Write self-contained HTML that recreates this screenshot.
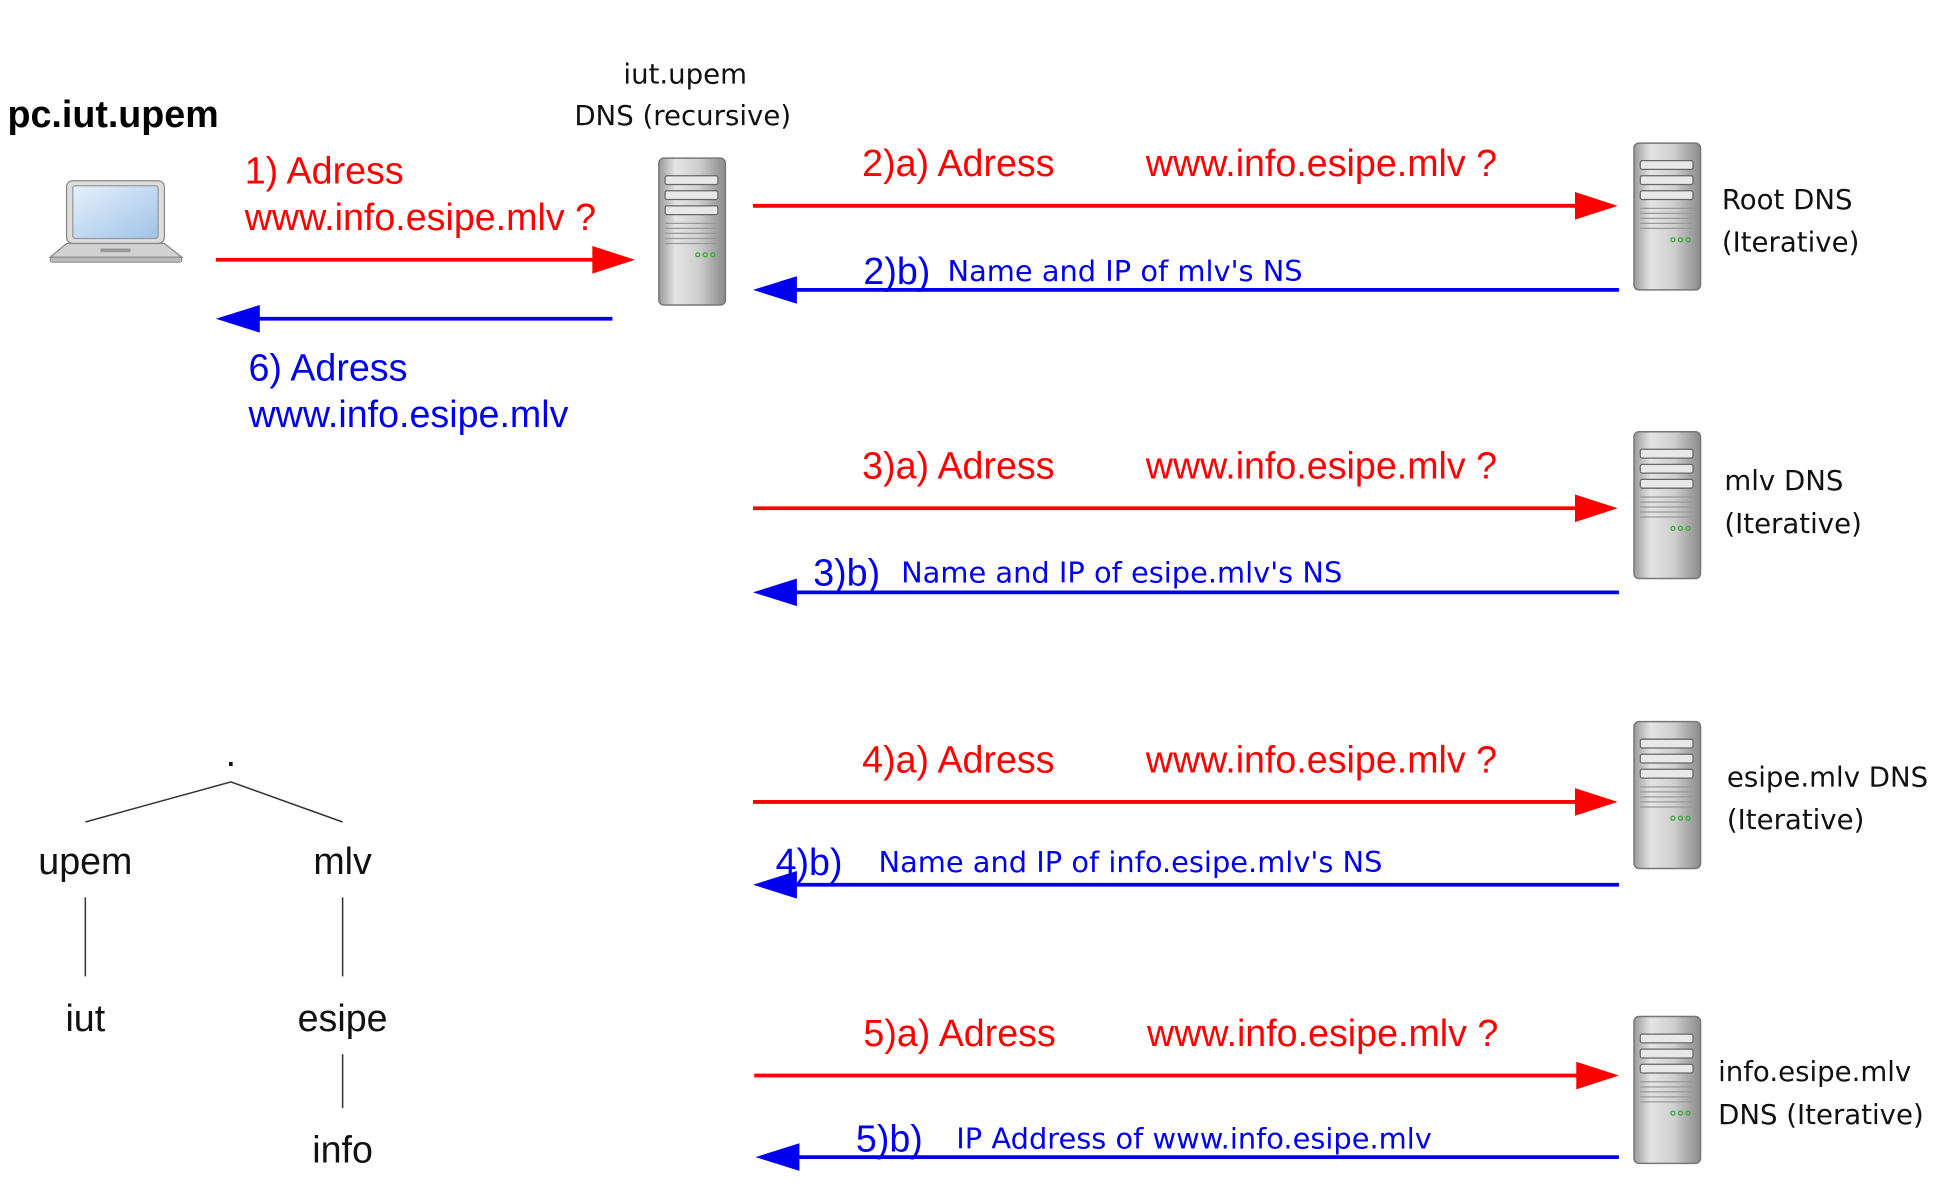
<!DOCTYPE html>
<html><head><meta charset="utf-8"><style>
html,body{margin:0;padding:0;background:#fff;}
svg{display:block}
text{font-family:"Liberation Sans",sans-serif;dominant-baseline:central}
.s{font-family:"DejaVu Sans","Liberation Sans",sans-serif;font-size:22px;fill:#111}
.r{fill:#ff0000;font-size:30px}
.b{fill:#0000ee;font-size:30px}
.bs{fill:#0000ee;font-size:23px;font-family:"DejaVu Sans","Liberation Sans",sans-serif}
.t{font-size:30px;fill:#111}
</style></head><body>
<svg width="1949" height="1196" viewBox="0 0 1553 953" preserveAspectRatio="none" xmlns="http://www.w3.org/2000/svg">
<defs>
<linearGradient id="sg" x1="0" y1="0" x2="1" y2="0">
<stop offset="0" stop-color="#9a9a9a"/><stop offset="0.25" stop-color="#e4e4e4"/><stop offset="0.6" stop-color="#cfcfcf"/><stop offset="1" stop-color="#8a8a8a"/></linearGradient>
<linearGradient id="scr" x1="0" y1="0" x2="1" y2="1"><stop offset="0" stop-color="#e6f0fb"/><stop offset="1" stop-color="#9fc3e8"/></linearGradient>
<g id="srv">
<rect x="0" y="0" width="53" height="117" rx="4" fill="url(#sg)" stroke="#777" stroke-width="1.2"/>
<rect x="5" y="14" width="42" height="7" rx="1.5" fill="#e8e8e8" stroke="#666"/>
<rect x="5" y="26" width="42" height="7" rx="1.5" fill="#e8e8e8" stroke="#666"/>
<rect x="5" y="38" width="42" height="7" rx="1.5" fill="#e8e8e8" stroke="#666"/>
<path d="M5 52H47M5 56H47M5 60H47M5 64H47M5 68H47" stroke="#999" stroke-width="1"/>
<circle cx="31" cy="77" r="1.6" fill="none" stroke="#3a3"/><circle cx="37" cy="77" r="1.6" fill="none" stroke="#3a3"/><circle cx="43" cy="77" r="1.6" fill="none" stroke="#3a3"/>
</g>
</defs>
<!-- laptop -->
<rect x="53" y="144" width="78" height="50" rx="5" fill="#ddd" stroke="#888"/>
<rect x="58" y="148" width="68" height="42" rx="2" fill="url(#scr)" stroke="#999"/>
<path d="M53 194 L131 194 L145 205 L40 205 Z" fill="#d2d2d2" stroke="#888"/>
<rect x="40" y="205" width="105" height="4" rx="2" fill="#bbb" stroke="#888" stroke-width="0.8"/>
<rect x="80" y="198" width="24" height="3" fill="#999"/>
<text x="6" y="91" style="font-size:30px;font-weight:bold;fill:#000">pc.iut.upem</text>
<text class="s" x="546" y="59" text-anchor="middle">iut.upem</text>
<text class="s" x="544" y="92" text-anchor="middle">DNS (recursive)</text>
<use href="#srv" x="525" y="126"/>
<use href="#srv" x="1302" y="114"/>
<use href="#srv" x="1302" y="344"/>
<use href="#srv" x="1302" y="575"/>
<use href="#srv" x="1302" y="810"/>
<!-- client arrows -->
<text class="r" x="195" y="136">1) Adress</text>
<text class="r" x="195" y="173">www.info.esipe.mlv ?</text>
<line x1="172" y1="207" x2="475" y2="207" stroke="#f00" stroke-width="3"/>
<polygon points="472,196 506,207 472,218" fill="#f00"/>
<line x1="488" y1="254" x2="200" y2="254" stroke="#00e" stroke-width="3"/>
<polygon points="207,243 172,254 207,265" fill="#00e"/>
<text class="b" x="198" y="293">6) Adress</text>
<text class="b" x="198" y="330">www.info.esipe.mlv</text>
<!-- row 2 -->
<text class="r" x="687" y="130">2)a) Adress</text><text class="r" x="913" y="130">www.info.esipe.mlv ?</text>
<line x1="600" y1="164" x2="1258" y2="164" stroke="#f00" stroke-width="3"/><polygon points="1255,153 1289,164 1255,175" fill="#f00"/>
<text class="b" x="688" y="216">2)b)</text><text class="bs" x="755" y="216">Name and IP of mlv's NS</text>
<line x1="1290" y1="231" x2="630" y2="231" stroke="#00e" stroke-width="3"/><polygon points="635,220 600,231 635,242" fill="#00e"/>
<text class="s" x="1372" y="159">Root DNS</text><text class="s" x="1372" y="193">(Iterative)</text>
<!-- row 3 -->
<text class="r" x="687" y="371">3)a) Adress</text><text class="r" x="913" y="371">www.info.esipe.mlv ?</text>
<line x1="600" y1="405" x2="1258" y2="405" stroke="#f00" stroke-width="3"/><polygon points="1255,394 1289,405 1255,416" fill="#f00"/>
<text class="b" x="648" y="456">3)b)</text><text class="bs" x="718" y="456">Name and IP of esipe.mlv's NS</text>
<line x1="1290" y1="472" x2="630" y2="472" stroke="#00e" stroke-width="3"/><polygon points="635,461 600,472 635,483" fill="#00e"/>
<text class="s" x="1374" y="383">mlv DNS</text><text class="s" x="1374" y="417">(Iterative)</text>
<!-- row 4 -->
<text class="r" x="687" y="605">4)a) Adress</text><text class="r" x="913" y="605">www.info.esipe.mlv ?</text>
<line x1="600" y1="639" x2="1258" y2="639" stroke="#f00" stroke-width="3"/><polygon points="1255,628 1289,639 1255,650" fill="#f00"/>
<text class="b" x="618" y="687">4)b)</text><text class="bs" x="700" y="687">Name and IP of info.esipe.mlv's NS</text>
<line x1="1290" y1="705" x2="630" y2="705" stroke="#00e" stroke-width="3"/><polygon points="635,694 600,705 635,716" fill="#00e"/>
<text class="s" x="1376" y="619">esipe.mlv DNS</text><text class="s" x="1376" y="653">(Iterative)</text>
<!-- row 5 -->
<text class="r" x="688" y="823">5)a) Adress</text><text class="r" x="914" y="823">www.info.esipe.mlv ?</text>
<line x1="601" y1="857" x2="1259" y2="857" stroke="#f00" stroke-width="3"/><polygon points="1256,846 1290,857 1256,868" fill="#f00"/>
<text class="b" x="682" y="907">5)b)</text><text class="bs" x="762" y="907">IP Address of www.info.esipe.mlv</text>
<line x1="1290" y1="922" x2="632" y2="922" stroke="#00e" stroke-width="3"/><polygon points="637,911 602,922 637,933" fill="#00e"/>
<text class="s" x="1369" y="854">info.esipe.mlv</text><text class="s" x="1369" y="888">DNS (Iterative)</text>
<!-- tree -->
<text class="t" x="184" y="600" text-anchor="middle">.</text>
<path d="M68 655 L184 623 L273 655" fill="none" stroke="#333" stroke-width="1.2"/>
<text class="t" x="68" y="686" text-anchor="middle">upem</text>
<text class="t" x="273" y="686" text-anchor="middle">mlv</text>
<path d="M68 715V778M273 715V778M273 840V883" stroke="#333" stroke-width="1.2"/>
<text class="t" x="68" y="811" text-anchor="middle">iut</text>
<text class="t" x="273" y="811" text-anchor="middle">esipe</text>
<text class="t" x="273" y="916" text-anchor="middle">info</text>
</svg>
</body></html>
